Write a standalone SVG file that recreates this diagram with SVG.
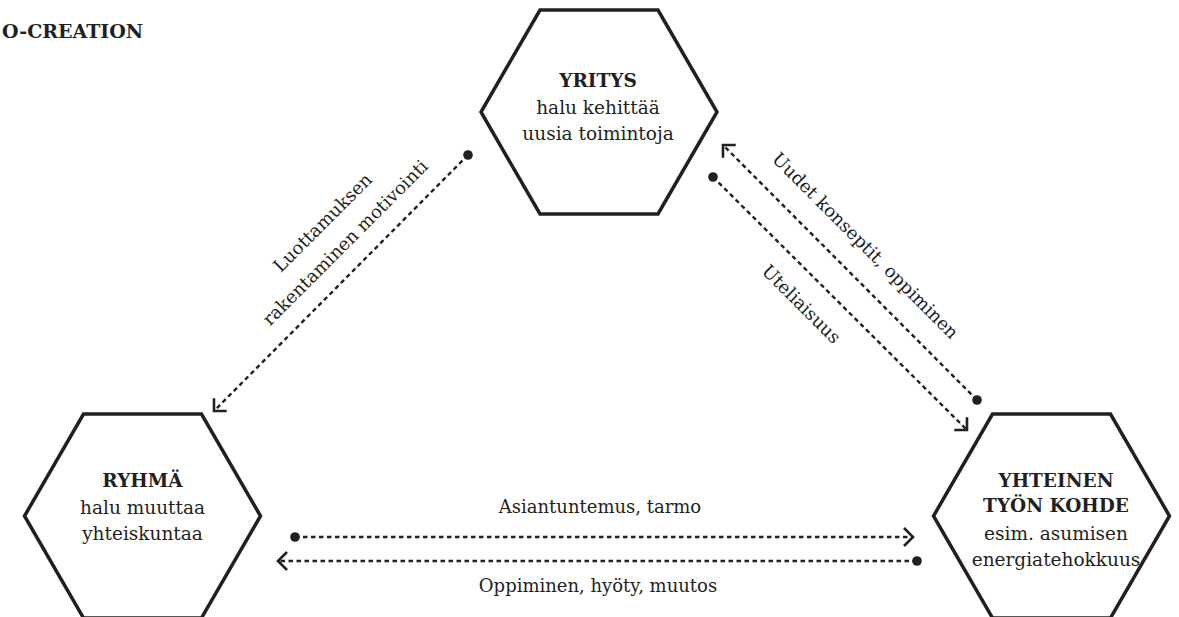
<svg xmlns="http://www.w3.org/2000/svg" width="1179" height="617" viewBox="0 0 1179 617">
<style>
  .hex { fill: #ffffff; stroke: #231f20; stroke-width: 3.5; stroke-linejoin: miter; }
  .t { font-family: "DejaVu Serif", "Liberation Serif", serif; font-size: 18.5px; fill: #231f20; text-anchor: middle; }
  .c { font-size: 18px; }
  .b { font-weight: bold; }
  .title { font-family: "DejaVu Serif", "Liberation Serif", serif; font-size: 19px; font-weight: bold; fill: #231f20; }
  .conn { fill: none; stroke: #231f20; stroke-width: 2.4; stroke-dasharray: 4.5 3.5; }
</style>
<defs>
  <marker id="dot" markerUnits="userSpaceOnUse" markerWidth="12" markerHeight="12" viewBox="-6 -6 12 12" refX="0" refY="0" orient="auto">
    <circle cx="0" cy="0" r="4.8" fill="#231f20"/>
  </marker>
  <marker id="chev" markerUnits="userSpaceOnUse" markerWidth="24" markerHeight="24" viewBox="-12 -12 24 24" refX="0" refY="0" orient="auto">
    <path d="M-9,-9 L0,0 L-9,9" fill="none" stroke="#231f20" stroke-width="2.6" stroke-dasharray="none" stroke-linecap="butt" stroke-linejoin="miter"/>
  </marker>
</defs>
<rect width="1179" height="617" fill="#ffffff"/>
<text class="title" x="2" y="38">O-CREATION</text>

<g id="connectors">
  <path class="conn" d="M468,155 L214,411" marker-start="url(#dot)" marker-end="url(#chev)"/>
  <path class="conn" d="M977,400 L723,145" marker-start="url(#dot)" marker-end="url(#chev)"/>
  <path class="conn" d="M713,177 L967,430" marker-start="url(#dot)" marker-end="url(#chev)"/>
  <path class="conn" d="M295,537 L913,537" marker-start="url(#dot)" marker-end="url(#chev)"/>
  <path class="conn" d="M917,561 L278,561" marker-start="url(#dot)" marker-end="url(#chev)"/>
  <text class="t c" transform="translate(327,227) rotate(-45)">Luottamuksen</text>
  <text class="t c" transform="translate(349.5,247) rotate(-45)">rakentaminen motivointi</text>
  <text class="t c" transform="translate(861,250) rotate(45)">Uudet konseptit, oppiminen</text>
  <text class="t c" transform="translate(797,308.5) rotate(45)">Uteliaisuus</text>
  <text class="t c" x="600" y="513">Asiantuntemus, tarmo</text>
  <text class="t c" x="598" y="592">Oppiminen, hyöty, muutos</text>
</g>

<g id="yritys">
  <polygon class="hex" points="540,10 658,10 717,112 658,214 540,214 481,112"/>
  <text class="t b" x="598" y="87">YRITYS</text>
  <text class="t" x="598" y="113.5">halu kehittää</text>
  <text class="t" x="598" y="140">uusia toimintoja</text>
</g>

<g id="ryhma">
  <polygon class="hex" points="83.5,414 201.5,414 260.5,516 201.5,618 83.5,618 24.5,516"/>
  <text class="t b" x="142.5" y="487">RYHMÄ</text>
  <text class="t" x="142.5" y="514">halu muuttaa</text>
  <text class="t" x="142.5" y="540">yhteiskuntaa</text>
</g>

<g id="kohde">
  <polygon class="hex" points="992.5,414 1110.5,414 1169.5,516 1110.5,618 992.5,618 933.5,516"/>
  <text class="t b" x="1056" y="486.5">YHTEINEN</text>
  <text class="t b" x="1056" y="512">TYÖN KOHDE</text>
  <text class="t" x="1056" y="540">esim. asumisen</text>
  <text class="t" x="1056" y="566">energiatehokkuus</text>
</g>
</svg>
